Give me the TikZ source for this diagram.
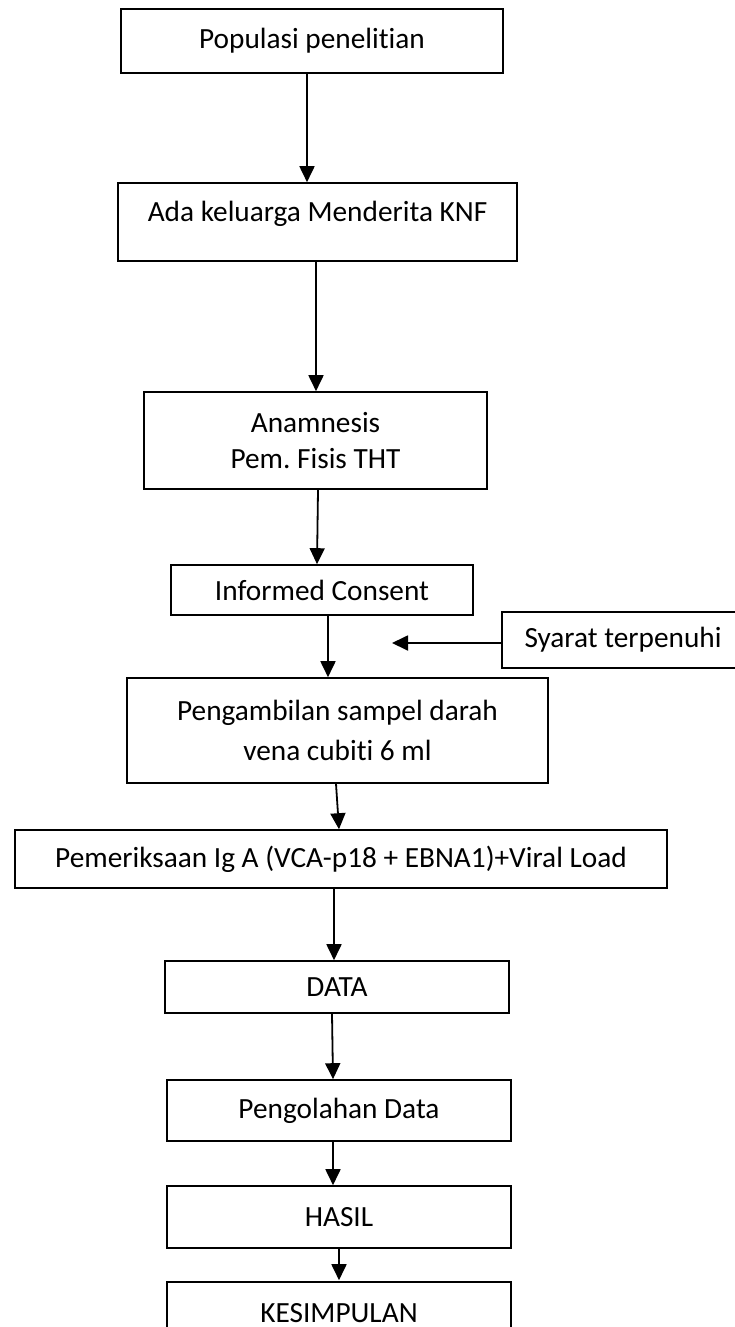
\documentclass[tikz,border=0pt]{standalone}
\usepackage{fontspec}
\setmainfont{Carlito}[Ligatures=NoCommon]
\frenchspacing
\usetikzlibrary{arrows.meta, positioning}
\tikzstyle{stage} = [rectangle, draw=black, line width=1.6pt, fill=white, inner sep=2pt, text centered, align=center, font=\fontsize{29.3}{36}\selectfont]
\tikzstyle{arrow} = [line width=1.8pt, -{Triangle[length=16pt, width=15pt]}]

\begin{document}
\begin{tikzpicture}[x=1pt, y=-1pt]

\clip (0,0) rectangle (735,1327);
\fill[white] (0,0) rectangle (735,1327);

% Population and selection
\node[stage, minimum width=382pt, minimum height=64pt] (populasi) at (312,41) {Populasi penelitian};
\node[stage, minimum width=399pt, minimum height=78pt, text depth=22pt] (keluarga) at (317.5,222) {Ada keluarga Menderita KNF};
\node[stage, minimum width=343pt, minimum height=97pt] (anamnesis) at (315.5,440.5) {Anamnesis\\Pem. Fisis THT};
\node[stage, minimum width=302pt, minimum height=50pt] (consent) at (322,590) {Informed Consent};

% Side condition
\node[stage, minimum width=242pt, minimum height=56pt] (syarat) at (623,640) {Syarat terpenuhi};
\coordinate (masuk) at (392,643);

% Sampling and lab work
\node[stage, minimum width=421pt, minimum height=105pt] (sampel) at (337.5,730.5) {Pengambilan sampel darah\\[4pt]vena cubiti 6 ml};
\node[stage, minimum width=652pt, minimum height=58pt] (periksa) at (341,859) {Pemeriksaan Ig A (VCA-p18 + EBNA1)+Viral Load};

% Analysis
\node[stage, minimum width=344pt, minimum height=52pt] (data) at (337,987) {DATA};
\node[stage, minimum width=344pt, minimum height=61pt] (olah) at (339,1110.5) {Pengolahan Data};
\node[stage, minimum width=344pt, minimum height=62pt] (hasil) at (339,1217) {HASIL};
\node[stage, minimum width=344pt, minimum height=62pt, text height=18pt, text depth=0pt] (simpul) at (339,1313) {KESIMPULAN};

% Connections
\draw[arrow] ([xshift=-5pt]populasi.south) -- ([xshift=-10.5pt]keluarga.north);
\draw[arrow] ([xshift=-1.5pt]keluarga.south) -- ([xshift=0.5pt]anamnesis.north);
\draw[arrow] ([xshift=2.5pt]anamnesis.south) -- ([xshift=-5pt]consent.north);
\draw[arrow] ([xshift=6pt]consent.south) -- ([xshift=-9.5pt]sampel.north);
\draw[arrow] ([yshift=-3pt]syarat.west) -- (masuk);
\draw[arrow] ([xshift=-1.5pt]sampel.south) -- ([xshift=-2pt]periksa.north);
\draw[arrow] ([xshift=-7pt]periksa.south) -- ([xshift=-3pt]data.north);
\draw[arrow] ([xshift=-5pt]data.south) -- ([xshift=-6pt]olah.north);
\draw[arrow] ([xshift=-6pt]olah.south) -- ([xshift=-6pt]hasil.north);
\draw[arrow] ([yshift=1pt]hasil.south) -- ([yshift=1pt]simpul.north);

\end{tikzpicture}
\end{document}
